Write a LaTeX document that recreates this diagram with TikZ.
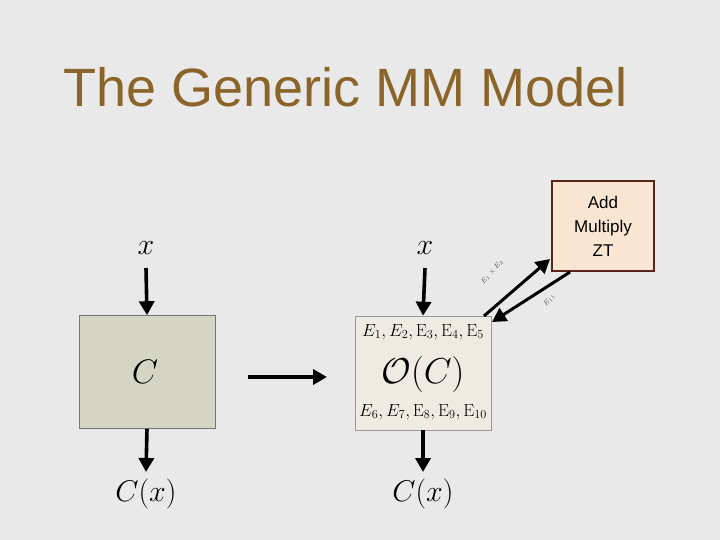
\RequirePackage{fix-cm}
\documentclass[tikz,border=0pt]{standalone}
\usepackage{fontspec}
\setsansfont{Liberation Sans}
\usetikzlibrary{arrows.meta}
\definecolor{bg}{HTML}{E9E9E9}
\definecolor{titlec}{HTML}{8A6428}
\definecolor{greenbox}{HTML}{D4D6C3}
\definecolor{obox}{HTML}{EEECE2}
\definecolor{opbox}{HTML}{FAE5D3}
\definecolor{opborder}{HTML}{5A2318}
\begin{document}
\begin{tikzpicture}[x=1pt,y=-1pt,
  arr/.style={line width=3.6pt,-{Triangle[length=14pt,width=15pt]}},
  mathlbl/.style={font=\fontsize{30}{34}\selectfont},
  box/.style={draw=black!55,line width=0.6pt,minimum width=136pt,minimum height=113pt,inner sep=0pt}]
\useasboundingbox (0,0) rectangle (720,540);
\fill[bg] (0,0) rectangle (720,540);
\node[anchor=base west,text=titlec,font=\sffamily\fontsize{54}{60}\selectfont] (title) at (60,107) {The Generic MM Model};
% left
\node[box,fill=greenbox] (C) at (147,372) {};
\node[font=\fontsize{34}{40}\selectfont] (Cl) at (145,372) {$C$};
\node[mathlbl] (x1) at (146,248) {$x$};
\node[mathlbl] (Cx1) at (146,494) {$C(x)$};
\draw[arr] (146,268) -- (C.north);
\draw[arr] (C.south) -- (146,472);
% right
\node[box,fill=obox,draw=black!40,minimum height=114pt] (O) at (423,373) {};
\node[font=\fontsize{17.5}{21}\selectfont] (E1) at (423,332) {$E_1,E_2,\mathrm{E}_3,\mathrm{E}_4,\mathrm{E}_5$};
\node[font=\fontsize{36}{42}\selectfont] (OC) at (423,374) {$\mathcal{O}(C)$};
\node[font=\fontsize{17.5}{21}\selectfont] (E6) at (423,412) {$E_6,E_7,\mathrm{E}_8,\mathrm{E}_9,\mathrm{E}_{10}$};
\node[mathlbl] (x2) at (425,248) {$x$};
\node[mathlbl] (Cx2) at (423,494) {$C(x)$};
\draw[arr] (425,268) -- (O.north);
\draw[arr] (O.south) -- (423,472);
\coordinate (m1) at (248,377);
\coordinate (m2) at (327,377);
\draw[arr] (m1) -- (m2);
% op box
\node[draw=opborder,line width=2pt,fill=opbox,minimum width=102pt,minimum height=89pt,align=center,font=\sffamily\fontsize{17}{24}\selectfont] (ops) at (603,226) {Add\\Multiply\\ZT};
\coordinate (a1) at (484,316);
\coordinate (a2) at (550,259);
\coordinate (b1) at (570,272);
\coordinate (b2) at (492,322);
\draw[arr,line width=3pt] (a1) -- (a2);
\draw[arr,line width=3pt] (b1) -- (b2);
\node[rotate=48,font=\fontsize{7}{8}\selectfont,text=black!70,inner sep=0pt] (l1) at (492,272) {$E_1\times E_2$};
\node[rotate=48,font=\fontsize{7}{8}\selectfont,text=black!70,inner sep=0pt] (l2) at (549,300) {$E_{11}$};
\end{tikzpicture}
\end{document}
